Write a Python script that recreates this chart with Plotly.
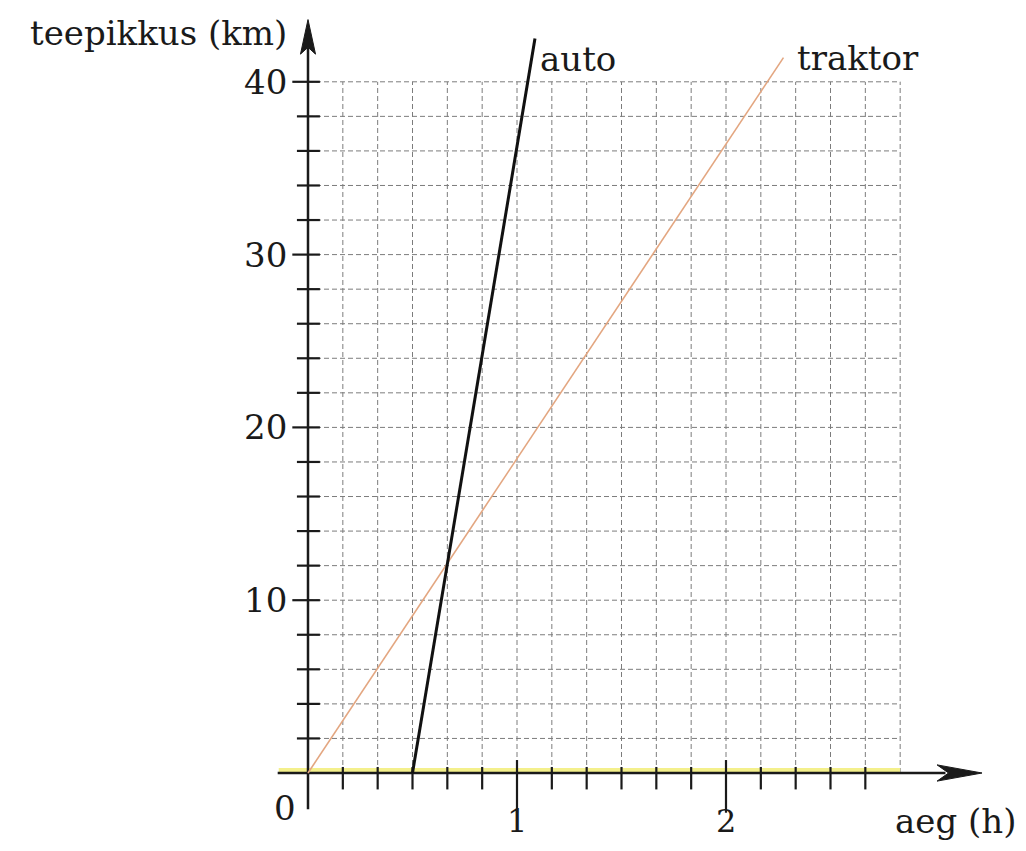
import plotly.graph_objects as go

# Data (time in hours, distance in km)
auto_time = [0.5, 1.086]
auto_dist = [0, 42.5]
traktor_time = [0, 2.275]
traktor_dist = [0, 41.4]

# grid / tick positions
x_grid = [i / 6 for i in range(1, 18)]          # every 10 min up to 2 h 50 min
y_grid = list(range(2, 41, 2))                   # every 2 km
x_major = [1, 2]
x_minor = [i / 6 for i in range(1, 17) if i % 6 != 0]
y_major = [10, 20, 30, 40]
y_labels = ["10", "20", "30", "40"]

PX_X = 209.0     # pixels per hour
PX_Y = 17.28     # pixels per km
PAD = 8          # default body margin of the html page
W, H = 1026 - 2 * PAD, 851 - 2 * PAD
X0, Y0 = 308 - PAD, 773 - PAD    # origin inside the figure

FONT = "DejaVu Serif"
INK = "#1a1a1a"
GRID = "#7c7c7c"

fig = go.Figure()


def segs(pairs):
    xs, ys = [], []
    for (xa, ya), (xb, yb) in pairs:
        xs += [xa, xb, None]
        ys += [ya, yb, None]
    return xs, ys


# dashed grid
gx, gy = segs([((0, y), (x_grid[-1], y)) for y in y_grid])
fig.add_trace(go.Scatter(x=gx, y=gy, mode="lines",
                         line=dict(color=GRID, width=1, dash="5px,3px")))
gx, gy = segs([((x, 0), (x, y_grid[-1])) for x in x_grid])
fig.add_trace(go.Scatter(x=gx, y=gy, mode="lines",
                         line=dict(color=GRID, width=1, dash="5px,3px")))

# faint yellow band along the time axis (from the scan)
fig.add_trace(go.Scatter(x=[-0.14, x_grid[-1]], y=[0.17, 0.17], mode="lines",
                         line=dict(color="#f4f08c", width=4)))

# axes
fig.add_trace(go.Scatter(x=[-0.145, 3.05], y=[0, 0], mode="lines",
                         line=dict(color=INK, width=2.5)))
fig.add_trace(go.Scatter(x=[0, 0], y=[-2.1, 42.0], mode="lines",
                         line=dict(color=INK, width=2.5)))

# arrowheads (filled, long and narrow like in the print)
fig.add_trace(go.Scatter(x=[3.225, 3.01, 3.065, 3.01, 3.225], y=[0, 0.47, 0, -0.47, 0],
                         mode="lines", fill="toself", fillcolor=INK,
                         line=dict(color=INK, width=1)))
fig.add_trace(go.Scatter(x=[0, -0.036, 0, 0.036, 0], y=[43.6, 41.6, 42.0, 41.6, 43.6],
                         mode="lines", fill="toself", fillcolor=INK,
                         line=dict(color=INK, width=1)))

# ticks on the time axis
tx, ty = segs([((x, 0.35), (x, -0.95)) for x in x_minor])
fig.add_trace(go.Scatter(x=tx, y=ty, mode="lines", line=dict(color=INK, width=2.2)))
tx, ty = segs([((x, 0.75), (x, -2.3)) for x in x_major])
fig.add_trace(go.Scatter(x=tx, y=ty, mode="lines", line=dict(color=INK, width=2.2)))

# ticks on the distance axis
tx, ty = segs([((-0.075 if y in y_major else -0.053, y), (0.057, y)) for y in y_grid])
fig.add_trace(go.Scatter(x=tx, y=ty, mode="lines", line=dict(color=INK, width=2.2)))

# the two movements
fig.add_trace(go.Scatter(x=traktor_time, y=traktor_dist, mode="lines",
                         line=dict(color="#e3a680", width=1.6)))
fig.add_trace(go.Scatter(x=auto_time, y=auto_dist, mode="lines",
                         line=dict(color="#111111", width=3)))

txt = dict(family=FONT, size=34, color=INK)

# tick labels
for v, lab in zip(y_major, y_labels):
    fig.add_annotation(x=-0.09, y=v, text=lab, showarrow=False, xanchor="right",
                       yanchor="middle", font=txt)
fig.add_annotation(x=-0.11, y=-2.0, text="0", showarrow=False, xanchor="center",
                   yanchor="middle", font=txt)
for v in x_major:
    fig.add_annotation(x=v, y=-2.8, text=str(v), showarrow=False, xanchor="center",
                       yanchor="middle", font=dict(family=FONT, size=32, color=INK))

# axis titles and line labels
fig.add_annotation(x=-0.09, y=42.8, text="teepikkus (km)", showarrow=False,
                   xanchor="right", yanchor="middle", font=txt)
fig.add_annotation(x=2.8, y=-2.8, text="aeg (h)", showarrow=False,
                   xanchor="left", yanchor="middle", font=txt)
fig.add_annotation(x=1.1, y=41.3, text="auto", showarrow=False,
                   xanchor="left", yanchor="middle", font=txt)
fig.add_annotation(x=2.33, y=41.4, text="traktor", showarrow=False,
                   xanchor="left", yanchor="middle", font=txt)

fig.update_layout(
    width=W, height=H, autosize=False,
    margin=dict(l=0, r=0, t=0, b=0),
    paper_bgcolor="white", plot_bgcolor="white",
    showlegend=False,
    xaxis=dict(range=[-X0 / PX_X, (W - X0) / PX_X], visible=False, fixedrange=True),
    yaxis=dict(range=[-(H - Y0) / PX_Y, Y0 / PX_Y], visible=False, fixedrange=True),
)

fig.write_html("out.html")
